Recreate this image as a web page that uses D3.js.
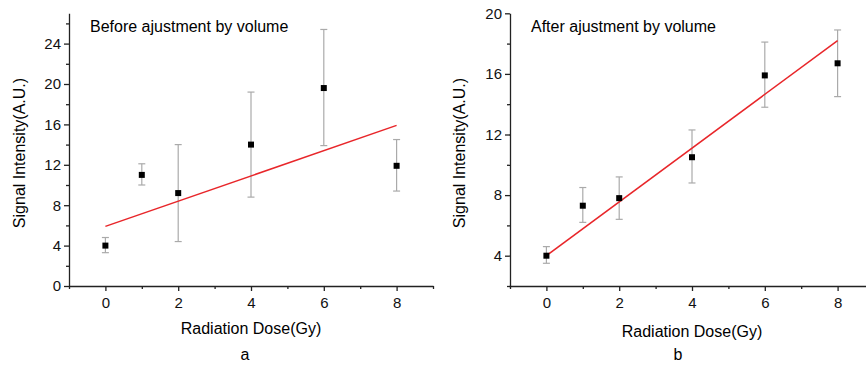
<!DOCTYPE html>
<html>
<head>
<meta charset="utf-8">
<script src="https://cdn.jsdelivr.net/npm/d3@7"></script>
<style>
  body { margin: 0; background: #fff; }
  svg { display: block; font-family: "Liberation Sans", Arial, sans-serif; }
  .axis path, .axis line { stroke: #222; stroke-width: 1.3; }
  .axis text { font-size: 15px; fill: #111; }
</style>
</head>
<body>
<script>
var W = 866, H = 365;

// dose values (Gy)
var doses = [0, 1, 2, 4, 6, 8];

// panel a: before adjustment
var beforeMean = [4.0, 11.0, 9.2, 14.0, 19.6, 11.9];
var beforeLow  = [3.3, 10.0, 4.4, 8.8, 13.9, 9.4];
var beforeHigh = [4.8, 12.1, 14.0, 19.2, 25.4, 14.5];
var beforeFit  = [5.9, 15.9];   // fitted line at dose 0 and 8

// panel b: after adjustment
var afterMean = [4.0, 7.3, 7.8, 10.5, 15.9, 16.7];
var afterLow  = [3.5, 6.2, 6.4, 8.8, 13.8, 14.5];
var afterHigh = [4.6, 8.5, 9.2, 12.3, 18.1, 18.9];
var afterFit  = [4.0, 18.2];

var fitDoses = [0, 8];
var xTicks = [0, 2, 4, 6, 8];
var xMinor = [-1, 1, 3, 5, 7, 9];
var yTicksA = [0, 4, 8, 12, 16, 20, 24];
var yMinorA = [2, 6, 10, 14, 18, 22, 26];
var yTicksB = [4, 8, 12, 16, 20];
var yMinorB = [2, 6, 10, 14, 18];

var svg = d3.select("body").append("svg")
    .attr("width", W)
    .attr("height", H);

function panel(opt) {
    var x = d3.scaleLinear().domain([-1, 9]).range([opt.left, opt.left + 364]);
    var y = d3.scaleLinear().domain(opt.yDomain).range([286, 13.3]);
    var g = svg.append("g");

    // minor ticks first
    g.append("g").attr("class", "axis")
        .attr("transform", "translate(" + opt.left + ",0)")
        .call(d3.axisLeft(y).tickValues(opt.yMinor).tickSize(3).tickFormat(""))
        .select(".domain").remove();
    g.append("g").attr("class", "axis")
        .attr("transform", "translate(0,286)")
        .call(d3.axisBottom(x).tickValues(xMinor).tickSize(3).tickFormat(""))
        .select(".domain").remove();

    g.append("g").attr("class", "axis")
        .attr("transform", "translate(" + opt.left + ",0)")
        .call(d3.axisLeft(y).tickValues(opt.yTicks).tickSize(5).tickSizeOuter(0).tickPadding(3));
    g.append("g").attr("class", "axis")
        .attr("transform", "translate(0,286)")
        .call(d3.axisBottom(x).tickValues(xTicks).tickSize(5).tickSizeOuter(0).tickPadding(6));

    // error bars
    var eb = g.append("g").attr("stroke", "#aaa").attr("stroke-width", 1.2);
    doses.forEach(function(d, i) {
        var cx = x(d);
        eb.append("line").attr("x1", cx).attr("x2", cx)
            .attr("y1", y(opt.low[i])).attr("y2", y(opt.high[i]));
        eb.append("line").attr("x1", cx - 3.5).attr("x2", cx + 3.5)
            .attr("y1", y(opt.low[i])).attr("y2", y(opt.low[i]));
        eb.append("line").attr("x1", cx - 3.5).attr("x2", cx + 3.5)
            .attr("y1", y(opt.high[i])).attr("y2", y(opt.high[i]));
    });

    // fit line
    g.append("line")
        .attr("x1", x(fitDoses[0])).attr("y1", y(opt.fit[0]))
        .attr("x2", x(fitDoses[1])).attr("y2", y(opt.fit[1]))
        .attr("stroke", "#e8262a").attr("stroke-width", 1.5);

    // markers
    g.selectAll("rect.pt").data(doses).enter().append("rect")
        .attr("class", "pt")
        .attr("x", function(d) { return x(d) - 3; })
        .attr("y", function(d, i) { return y(opt.mean[i]) - 3; })
        .attr("width", 6).attr("height", 6)
        .attr("fill", "#000");

    // texts
    g.append("text").attr("x", opt.titleX).attr("y", 32)
        .style("font-size", "16px").text(opt.title);
    g.append("text")
        .attr("transform", "translate(" + opt.yLabelX + ",153) rotate(-90)")
        .attr("text-anchor", "middle").attr("dy", "0.35em")
        .style("font-size", "16px").text("Signal Intensity(A.U.)");
    g.append("text").attr("x", x(4)).attr("y", opt.xLabelY)
        .attr("text-anchor", "middle")
        .style("font-size", "16px").text("Radiation Dose(Gy)");
    g.append("text").attr("x", opt.subX).attr("y", 360)
        .attr("text-anchor", "middle")
        .style("font-size", "16px").text(opt.sub);
}

panel({
    left: 69, yDomain: [0, 27], yTicks: yTicksA, yMinor: yMinorA,
    mean: beforeMean, low: beforeLow, high: beforeHigh, fit: beforeFit,
    title: "Before ajustment by volume", titleX: 90, yLabelX: 19, xLabelY: 334,
    sub: "a", subX: 245
});
panel({
    left: 510, yDomain: [2, 20], yTicks: yTicksB, yMinor: yMinorB,
    mean: afterMean, low: afterLow, high: afterHigh, fit: afterFit,
    title: "After ajustment by volume", titleX: 531, yLabelX: 459, xLabelY: 337,
    sub: "b", subX: 678
});
</script>
</body>
</html>
